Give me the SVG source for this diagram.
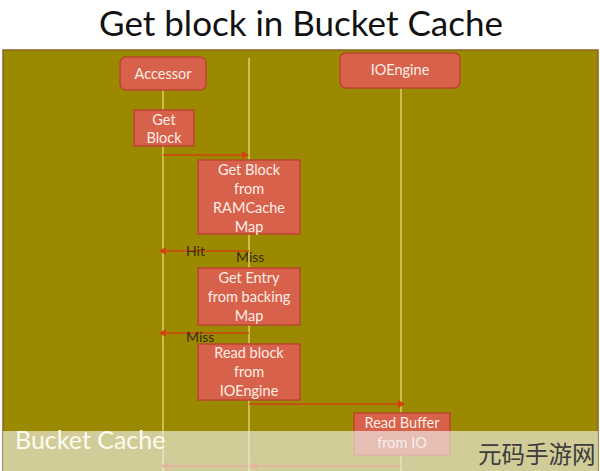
<svg xmlns="http://www.w3.org/2000/svg" width="600" height="471" viewBox="0 0 600 471">
<defs>
<style>
.box{fill:#d8614b;stroke:#b8472e;stroke-width:1.5}
.bt{font-family:Lato,"Open Sans",sans-serif;font-size:14.5px;fill:#fdeee6;text-anchor:middle}
.life{stroke:#efe08a;stroke-width:1.2;fill:none}
.msg{stroke:#d2410f;stroke-width:1.6;fill:none}
.lbl{font-family:Lato,"Open Sans",sans-serif;font-size:14px;fill:#3a2a10}
</style>
<marker id="ah" markerWidth="8" markerHeight="8" refX="6" refY="4" orient="auto" markerUnits="userSpaceOnUse">
<path d="M0,0 L7,4 L0,8 z" fill="#d2410f"/>
</marker>
</defs>
<rect x="0" y="0" width="600" height="471" fill="#ffffff"/>
<text x="301" y="36" font-family="Lato,'Open Sans',sans-serif" font-size="35" fill="#111" text-anchor="middle">Get block in Bucket Cache</text>
<rect x="3" y="50" width="595" height="430" fill="#9b8a00" stroke="#8a6420" stroke-width="1.5"/>
<g id="lifelines">
<line class="life" x1="163" y1="90" x2="163" y2="471"/>
<line class="life" x1="249" y1="58" x2="249" y2="471"/>
<line class="life" x1="401" y1="88" x2="401" y2="471"/>
</g>
<g id="connectors">
<line class="msg" x1="163" y1="155" x2="248" y2="155" marker-end="url(#ah)"/>
<line class="msg" x1="249" y1="251" x2="160" y2="251" marker-end="url(#ah)"/>
<line class="msg" x1="249" y1="333" x2="160" y2="333" marker-end="url(#ah)"/>
<line class="msg" x1="249" y1="404" x2="404" y2="404" marker-end="url(#ah)"/>
<line class="msg" x1="401" y1="466" x2="251" y2="466" marker-end="url(#ah)"/>
<line class="msg" x1="249" y1="466" x2="162" y2="466" marker-end="url(#ah)"/>
<text class="lbl" x="186" y="256">Hit</text>
<text class="lbl" x="236" y="262">Miss</text>
<text class="lbl" x="186" y="342">Miss</text>
</g>
<g id="accessor">
<rect class="box" x="120" y="57" width="86" height="33" rx="6"/>
<text class="bt" x="163" y="79">Accessor</text>
</g>
<g id="ioengine">
<rect class="box" x="340" y="53" width="120" height="35" rx="6"/>
<text class="bt" x="400" y="75">IOEngine</text>
</g>
<g id="getblock">
<rect class="box" x="134" y="110" width="60" height="36"/>
<text class="bt" x="164" y="125">Get</text>
<text class="bt" x="164" y="143">Block</text>
</g>
<g id="ramcache">
<rect class="box" x="198" y="160" width="102" height="74"/>
<text class="bt" x="249" y="175">Get Block</text>
<text class="bt" x="249" y="194">from</text>
<text class="bt" x="249" y="213">RAMCache</text>
<text class="bt" x="249" y="232">Map</text>
</g>
<g id="backing">
<rect class="box" x="198" y="268" width="102" height="57"/>
<text class="bt" x="249" y="283">Get Entry</text>
<text class="bt" x="249" y="302">from backing</text>
<text class="bt" x="249" y="321">Map</text>
</g>
<g id="readblock">
<rect class="box" x="198" y="344" width="102" height="56"/>
<text class="bt" x="249" y="358">Read block</text>
<text class="bt" x="249" y="377">from</text>
<text class="bt" x="249" y="396">IOEngine</text>
</g>
<g id="readbuffer">
<rect class="box" x="354" y="413" width="96" height="42"/>
<text class="bt" x="402" y="428">Read Buffer</text>
<text class="bt" x="402" y="448">from IO</text>
</g>
<rect x="3" y="431" width="595" height="40" fill="#f0f0eb" fill-opacity="0.65"/>
<text x="15" y="449" font-family="Lato,'Open Sans',sans-serif" font-size="25" fill="#fbfbf0">Bucket Cache</text>
<text x="478" y="463" font-family="'Noto Sans CJK SC',sans-serif" font-size="23.5" fill="#3c3c3c">元码手游网</text>
</svg>
